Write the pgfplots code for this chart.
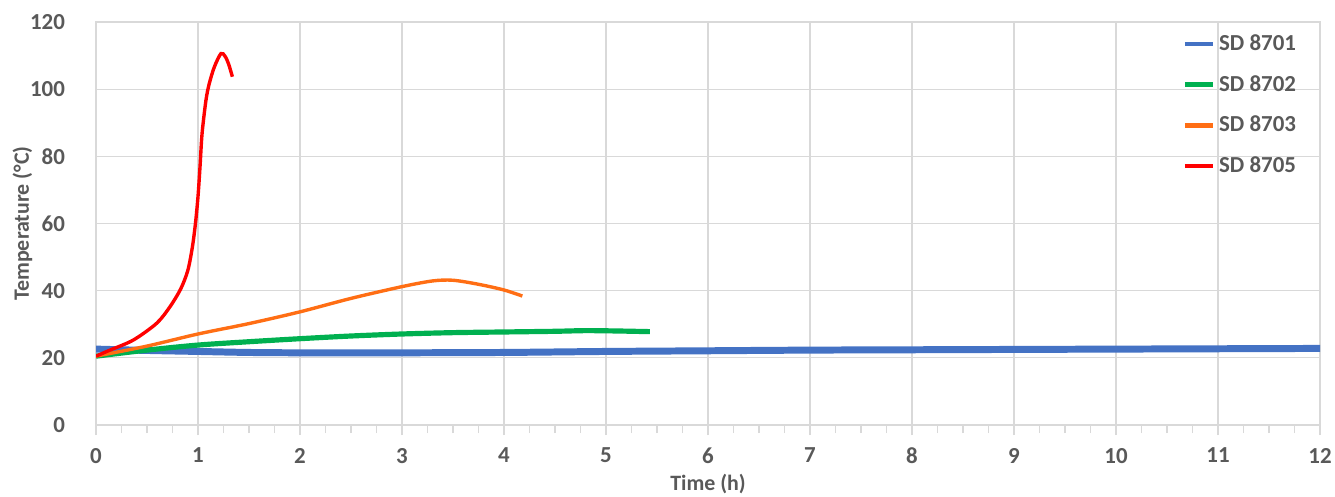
\documentclass[border=0pt]{standalone}
\usepackage{pgfplots}
\pgfplotsset{compat=1.18}
\usepackage{fontspec}
\setmainfont{Carlito}
\definecolor{cblue}{RGB}{68,114,196}
\definecolor{cgreen}{RGB}{0,176,80}
\definecolor{corange}{RGB}{255,110,20}
\definecolor{cred}{RGB}{255,0,0}
\definecolor{lblgray}{RGB}{89,89,89}
\definecolor{grd}{RGB}{217,217,217}
\begin{document}
\begin{tikzpicture}
\begin{axis}[
  name=ax,
  scale only axis,
  width=612bp, height=201.5bp,
  xmin=0, xmax=12, ymin=0, ymax=120,
  xtick={0,1,...,12}, ytick={0,20,...,120},
  minor x tick num=3,
  grid=major,
  major grid style={grd, line width=0.6pt},
  axis line style={grd, line width=0.8pt},
  xtick pos=lower,
  tick align=outside,
  major tick length=5bp, minor tick length=4bp,
  xtick style={grd, line width=0.8pt},
  minor x tick style={grd, line width=0.8pt},
  ytick style={draw=none},
  /pgf/number format/assume math mode=true,
  ticklabel style={font=\bfseries\fontsize{11.5}{13}\selectfont, text=lblgray},
  yticklabel style={xshift=-7bp},
  xticklabel style={yshift=-3bp},
  xlabel={Time (h)}, ylabel={Temperature (°C)},
  label style={font=\bfseries\fontsize{11}{13}\selectfont, text=lblgray},
  xlabel style={yshift=1.5bp},
  ylabel style={yshift=-8bp},
  legend style={at={(0.984,0.98)}, anchor=north east, draw=none, fill=none,
    font=\bfseries\fontsize{11.5}{13}\selectfont, text=lblgray,
    row sep=7bp, inner sep=0pt},
  legend cell align=left,
  legend image code/.code={\draw[#1, line width=2.2pt] (0bp,0bp) -- (14bp,0bp);},
]
\addplot[cblue, line width=3.5pt, smooth] coordinates {
(0,22.6) (0.5,22.2) (1,21.9) (1.5,21.6) (2,21.5) (3,21.5) (4,21.6) (5,21.9)
(6,22.1) (7,22.3) (8,22.4) (9,22.5) (10,22.6) (11,22.7) (12,22.8)};
\addlegendentry{SD 8701}
\addplot[cgreen, line width=2.6pt, smooth] coordinates {
(0,20.5) (0.5,22.3) (1,23.8) (1.5,24.8) (2,25.7) (2.5,26.5) (3,27.1) (3.5,27.5)
(4,27.7) (4.5,27.9) (4.8,28.1) (5.1,28.0) (5.43,27.8)};
\addlegendentry{SD 8702}
\addplot[corange, line width=1.7pt, smooth] coordinates {
(0,20.5) (0.5,23.5) (1,27.1) (1.5,30.2) (2,33.7) (2.5,37.7) (3,41.2) (3.3,42.9)
(3.5,43.1) (3.75,41.9) (4,40.2) (4.18,38.4)};
\addlegendentry{SD 8703}
\addplot[cred, line width=1.7pt, smooth] coordinates {
(0,20.5) (0.137,22.3) (0.366,25.3) (0.595,30.3) (0.725,35.2) (0.83,40.5)
(0.9,46) (0.945,53) (0.975,60) (1.0,68) (1.02,77) (1.04,86.8) (1.078,96.7)
(1.11,101.6) (1.16,106.6) (1.225,110.6) (1.265,109.8) (1.30,107.5) (1.337,103.7)};
\addlegendentry{SD 8705}
\end{axis}
\pgfresetboundingbox
\path ([xshift=-48bp,yshift=-36bp]ax.south west) rectangle ([xshift=7.5bp,yshift=11bp]ax.north east);
\end{tikzpicture}
\end{document}
